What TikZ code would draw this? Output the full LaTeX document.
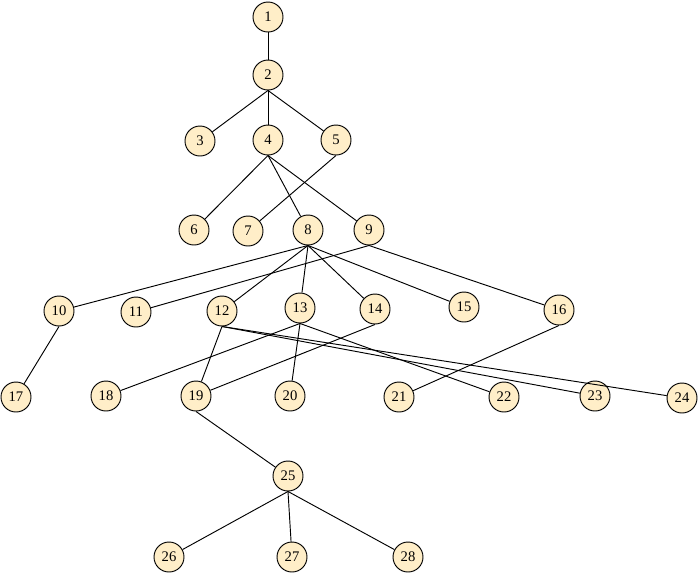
\documentclass[tikz,border=0pt]{standalone}
\usepackage{fontspec}
\setmainfont{Liberation Serif}
\definecolor{cream}{RGB}{255, 238, 200}

\begin{document}
\begin{tikzpicture}[x=0.03cm, y=-0.03cm,
        vertex/.style={circle, draw=black, fill=cream, line width=0.8pt, inner sep=0pt,
                       minimum size=0.9cm, font=\fontsize{12.5}{14}\selectfont},
        link/.style={line width=0.8pt}]
            \useasboundingbox (0,0) rectangle (698,574);
            % vertices: name / x / y (pixels, y downwards)
            \foreach \i/\x/\y in {1/268/17, 2/268/75, 3/200/141, 4/268/140, 5/336/140,
                                  6/194/230, 7/248/231, 8/308/230, 9/369/230,
                                  10/59/311, 11/136/312, 12/222/311, 13/300/308, 14/375/309,
                                  15/464/307, 16/559/310,
                                  17/16/397, 18/106/396, 19/196/396, 20/290/396, 21/399/397,
                                  22/504/397, 23/595/396, 24/682/398,
                                  25/288/476, 26/169/557, 27/292/557, 28/408/557}
                \node[vertex] (n\i) at (\x,\y) {\i};
            % edges: parent / child
            \foreach \p/\c in {1/2, 2/3, 2/4, 2/5, 4/6, 5/7, 4/8, 4/9,
                               8/10, 9/11, 8/12, 8/13, 8/14, 8/15, 9/16,
                               10/17, 13/18, 12/19, 14/19, 13/20, 16/21, 13/22, 12/23, 12/24,
                               19/25, 25/26, 25/27, 25/28}
                \draw[link] (n\p.south) -- (n\c);
        \end{tikzpicture}
\end{document}
